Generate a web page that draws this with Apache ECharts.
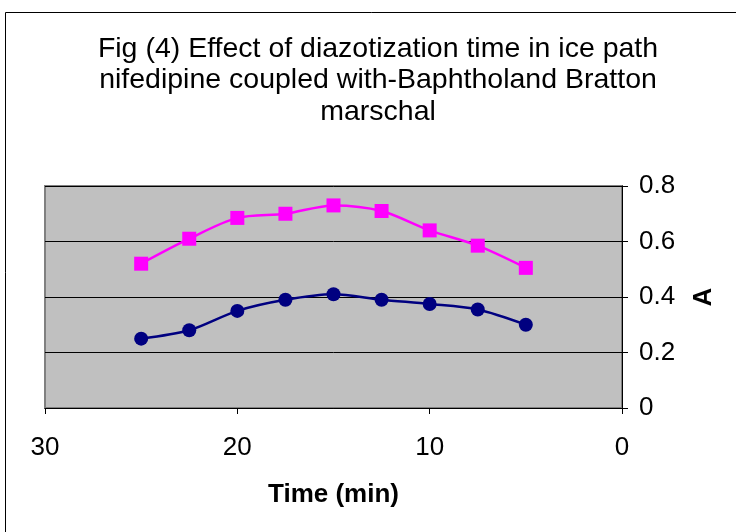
<!DOCTYPE html>
<html>
<head>
<meta charset="utf-8">
<title>Fig (4)</title>
<script src="https://cdn.jsdelivr.net/npm/echarts@6/dist/echarts.min.js"></script>
<style>
  html, body { margin: 0; padding: 0; background: #fff; }
  #chart { width: 736px; height: 532px; }
</style>
</head>
<body>
<div id="chart"></div>
<script>
  // time (min) on x, absorbance A on y
  var timeMin = [25, 22.5, 20, 17.5, 15, 12.5, 10, 7.5, 5]
  var seriesPink = [0.52, 0.61, 0.685, 0.70, 0.73, 0.71, 0.64, 0.585, 0.505]
  var seriesNavy = [0.25, 0.28, 0.35, 0.39, 0.41, 0.39, 0.375, 0.355, 0.30]
  var xTicks = [0, 10, 20, 30]
  var yTicks = [0, 0.2, 0.4, 0.6, 0.8]
  var titleLines = [
    'Fig (4) Effect of diazotization time in ice path',
    'nifedipine coupled with-Baphtholand Bratton',
    'marschal'
  ]

  function pairs(xs, ys) {
    return xs.map(function (x, i) { return [x, ys[i]] })
  }

  var myChart = echarts.init(document.getElementById('chart'))
  var font = 'Liberation Sans, Arial, sans-serif'

  var option = {
    backgroundColor: '#ffffff',
    animation: false,
    graphic: [
      { // outer frame of the chart
        type: 'rect',
        shape: { x: 5.5, y: 12.5, width: 800, height: 600 },
        style: { fill: 'none', stroke: '#000', lineWidth: 1 },
        silent: true
      },
      { // title, centred a bit right of the page middle like the original
        type: 'text',
        x: 378,
        y: 33,
        style: {
          text: titleLines.join('\n'),
          textAlign: 'center',
          textVerticalAlign: 'top',
          fontFamily: font,
          fontSize: 28.5,
          lineHeight: 31.5,
          fill: '#000'
        },
        silent: true
      }
    ],
    grid: {
      left: 45,
      right: 114,
      top: 186,
      bottom: 124,
      show: true,
      backgroundColor: '#c0c0c0',
      borderColor: '#808080',
      borderWidth: 2
    },
    xAxis: {
      type: 'value',
      inverse: true,
      min: xTicks[0],
      max: xTicks[xTicks.length - 1],
      interval: 10,
      name: 'Time (min)',
      nameLocation: 'middle',
      nameGap: 74,
      nameTextStyle: { fontFamily: font, fontSize: 26, fontWeight: 'bold', color: '#000' },
      axisLine: { show: true, onZero: false, lineStyle: { color: '#000', width: 1 } },
      axisTick: { show: true, length: 6, lineStyle: { color: '#000' } },
      axisLabel: { fontFamily: font, fontSize: 26, color: '#000', margin: 27 },
      splitLine: { show: false }
    },
    yAxis: {
      type: 'value',
      position: 'right',
      min: yTicks[0],
      max: yTicks[yTicks.length - 1],
      interval: 0.2,
      name: 'A',
      nameLocation: 'middle',
      nameRotate: 90,
      nameGap: 69,
      nameTextStyle: { fontFamily: font, fontSize: 26, fontWeight: 'bold', color: '#000' },
      axisLine: { show: true, onZero: false, lineStyle: { color: '#000', width: 1 } },
      axisTick: { show: true, length: 6, lineStyle: { color: '#000' } },
      axisLabel: { fontFamily: font, fontSize: 26, color: '#000', margin: 17 },
      splitLine: { show: true, lineStyle: { color: '#000', width: 1 } }
    },
    series: [
      {
        name: 'pink',
        type: 'line',
        data: pairs(timeMin, seriesPink),
        smooth: 0.3,
        symbol: 'rect',
        symbolSize: 14,
        lineStyle: { color: '#ff00ff', width: 2.5 },
        itemStyle: { color: '#ff00ff' }
      },
      {
        name: 'navy',
        type: 'line',
        data: pairs(timeMin, seriesNavy),
        smooth: 0.3,
        symbol: 'circle',
        symbolSize: 14,
        lineStyle: { color: '#000080', width: 2.5 },
        itemStyle: { color: '#000080' }
      }
    ]
  }
  myChart.setOption(option)
</script>
</body>
</html>
